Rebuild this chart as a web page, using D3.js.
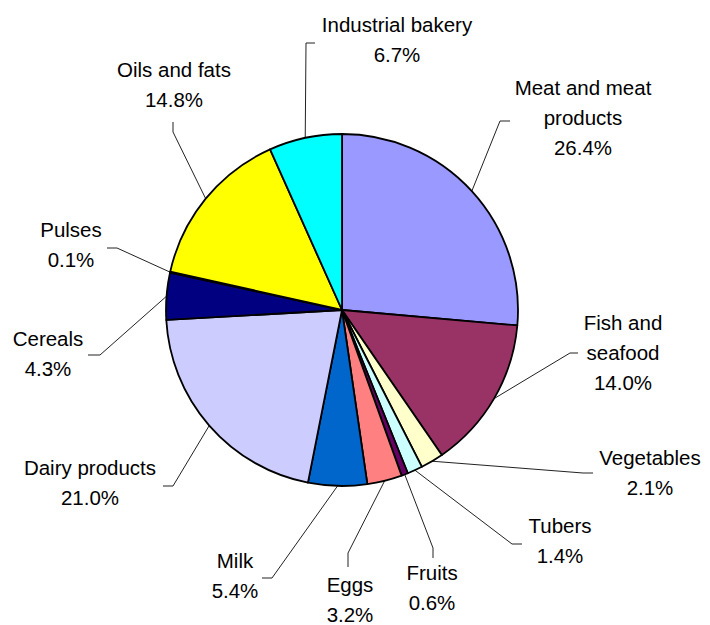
<!DOCTYPE html>
<html>
<head>
<meta charset="utf-8">
<script src="https://cdn.jsdelivr.net/npm/d3@7"></script>
<style>
  body { margin: 0; background: #fff; }
  svg { display: block; }
</style>
</head>
<body>
<div id="chart"></div>
<script>
// slices, clockwise from 12 o'clock
const categories = ["Meat and meat products", "Fish and seafood", "Vegetables", "Tubers", "Fruits", "Eggs",
  "Milk", "Dairy products", "Cereals", "Pulses", "Oils and fats", "Industrial bakery"];
const values = [26.4, 14.0, 2.1, 1.4, 0.6, 3.2, 5.4, 21.0, 4.3, 0.1, 14.8, 6.7];
const colors = ["#9999FF", "#993366", "#FFFFCC", "#CCFFFF", "#660066", "#FF8080",
  "#0066CC", "#CCCCFF", "#000080", "#FF00FF", "#FFFF00", "#00FFFF"];
// label text split in lines
const labelLines = [["Meat and meat", "products"], ["Fish and", "seafood"], ["Vegetables"], ["Tubers"], ["Fruits"], ["Eggs"],
  ["Milk"], ["Dairy products"], ["Cereals"], ["Pulses"], ["Oils and fats"], ["Industrial bakery"]];

const width = 710;
const height = 625;
const cx = 342, cy = 310, radius = 176;

// label layout: text centre x, first baseline y, leader elbow + end
const labelPos = [
  { x: 583, y: 95, elbow: [500, 121], end: [510, 121] },
  { x: 623, y: 330, elbow: [570, 353], end: [578, 353] },
  { x: 650, y: 465, elbow: [583, 473], end: [593, 473] },
  { x: 560, y: 533, elbow: [512, 544], end: [522, 544] },
  { x: 432, y: 580, elbow: [433, 548], end: [433, 558] },
  { x: 350, y: 592, elbow: [348, 553], end: [348, 567] },
  { x: 235, y: 568, elbow: [272, 578], end: [262, 578] },
  { x: 90, y: 475, elbow: [173, 486], end: [163, 486] },
  { x: 48, y: 346, elbow: [100, 355], end: [88, 355] },
  { x: 71, y: 237, elbow: [117, 248], end: [107, 248] },
  { x: 174, y: 77, elbow: [173, 132], end: [173, 122] },
  { x: 397, y: 32, elbow: [306, 43], end: [315, 43] }
];

const data = categories.map((c, i) => ({ label: c, value: values[i], color: colors[i], lines: labelLines[i], pos: labelPos[i] }));

const svg = d3.select("#chart")
  .append("svg")
  .attr("width", width)
  .attr("height", height);

const pie = d3.pie()
  .sort(null)
  .value(d => d.value);

const arc = d3.arc()
  .innerRadius(0)
  .outerRadius(radius);

const arcs = pie(data);

// leader lines start on the rim at the slice middle
const edge = d => {
  const a = (d.startAngle + d.endAngle) / 2;
  return [cx + radius * Math.sin(a), cy - radius * Math.cos(a)];
};

svg.append("g")
  .selectAll("path")
  .data(arcs)
  .enter()
  .append("path")
  .attr("d", d => d3.line()([edge(d), d.data.pos.elbow, d.data.pos.end]))
  .attr("fill", "none")
  .attr("stroke", "#222")
  .attr("stroke-width", 1);

svg.append("g")
  .attr("transform", `translate(${cx}, ${cy})`)
  .selectAll("path")
  .data(arcs)
  .enter()
  .append("path")
  .attr("d", arc)
  .attr("fill", d => d.data.color)
  .attr("stroke", "#000")
  .attr("stroke-linejoin", "round")
  .style("stroke-width", "1.8px");

const labels = svg.append("g")
  .selectAll("text")
  .data(arcs)
  .enter()
  .append("text")
  .attr("x", d => d.data.pos.x)
  .attr("y", d => d.data.pos.y)
  .style("text-anchor", "middle")
  .style("font-family", "'Liberation Sans', Arial, sans-serif")
  .style("font-size", "20.5px")
  .style("fill", "#000");

labels.each(function(d) {
  const t = d3.select(this);
  const lines = d.data.lines.concat([d.data.value.toFixed(1) + "%"]);
  lines.forEach((l, i) => {
    t.append("tspan")
      .attr("x", d.data.pos.x)
      .attr("dy", i === 0 ? 0 : 30)
      .text(l);
  });
});
</script>
</body>
</html>
